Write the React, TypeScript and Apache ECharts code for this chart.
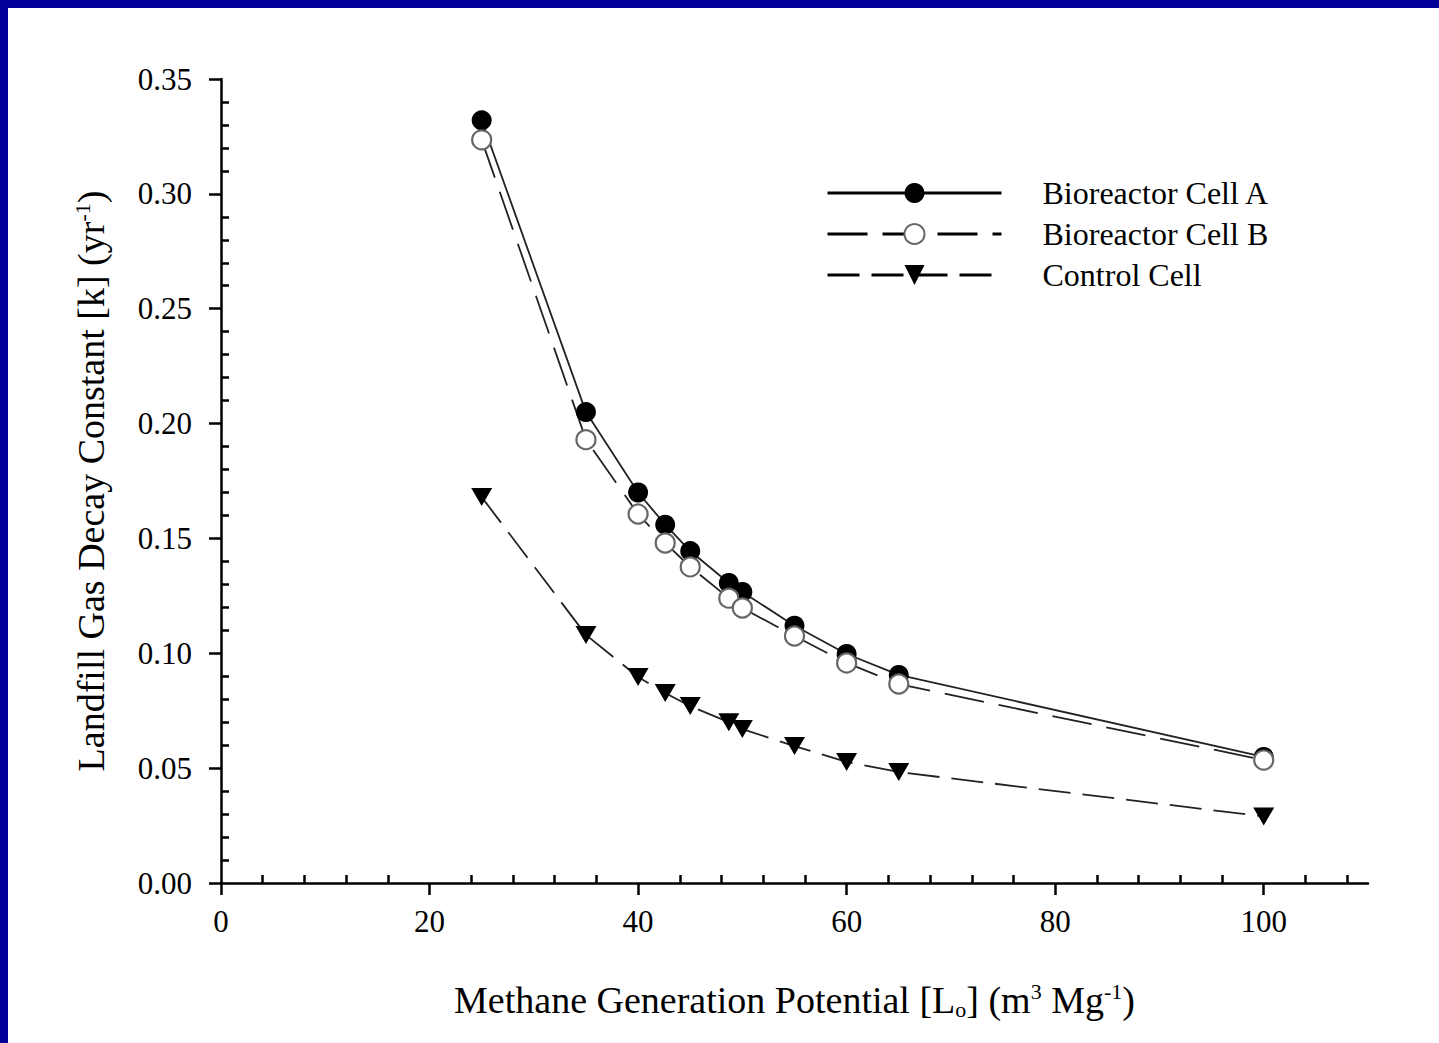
import React, { useEffect, useRef } from "react";
import * as echarts from "echarts";

const xValues = [25, 35, 40, 42.6, 45, 48.7, 50, 55, 60, 65, 100];
const cellA = [0.332, 0.205, 0.17, 0.156, 0.1445, 0.1306, 0.1267, 0.112, 0.0997, 0.0906, 0.0549];
const cellB = [0.3235, 0.193, 0.1606, 0.148, 0.1376, 0.124, 0.1197, 0.1075, 0.0958, 0.0866, 0.0535];
const control = [0.168, 0.108, 0.0897, 0.0827, 0.077, 0.07, 0.067, 0.0596, 0.0527, 0.0483, 0.029];
const xTickValues = [0, 20, 40, 60, 80, 100];
const seriesNames = ["Bioreactor Cell A", "Bioreactor Cell B", "Control Cell"];

const FONT = "Liberation Serif";

export default function App() {
  const ref = useRef<HTMLDivElement>(null);
  useEffect(() => {
    if (!ref.current) return;
    const chart = echarts.init(ref.current, null, { renderer: "svg" });
    const pairs = (ys: number[]) => xValues.map((x, i) => [x, ys[i]]);
    const lineCol = "#222";
    chart.setOption({
      animation: false,
      backgroundColor: "#ffffff",
      graphic: [
        { type: "rect", shape: { x: 0, y: 0, width: 1439, height: 8 }, style: { fill: "#000099" }, z: 100 },
        { type: "rect", shape: { x: 0, y: 0, width: 8, height: 1043 }, style: { fill: "#000099" }, z: 100 },
      ],
      grid: { left: 221, right: 71, top: 79, bottom: 160, containLabel: false },
      legend: {
        data: seriesNames,
        orient: "vertical",
        left: 821,
        top: 172,
        itemWidth: 174,
        itemHeight: 25,
        itemGap: 9,
        selectedMode: false,
        formatter: (name: string) => "{g| }" + name,
        lineStyle: { width: 3, color: "#000" },
        textStyle: {
          fontFamily: FONT,
          fontSize: 32,
          color: "#000",
          lineHeight: 25,
          rich: { g: { width: 36, fontSize: 32, fontFamily: FONT } },
        },
      },
      xAxis: {
        type: "value",
        min: 0,
        max: 110,
        interval: 20,
        name: "Methane Generation Potential [L{sub|o}] (m{sup|3} Mg{sup|-1})",
        nameLocation: "middle",
        nameGap: 97,
        nameTextStyle: {
          fontFamily: FONT,
          fontSize: 38,
          color: "#000",
          lineHeight: 40,
          rich: {
            sup: { fontFamily: FONT, fontSize: 22, verticalAlign: "top", lineHeight: 20 },
            sub: { fontFamily: FONT, fontSize: 22, verticalAlign: "bottom", lineHeight: 20 },
          },
        },
        splitLine: { show: false },
        axisLine: { show: true, onZero: false, lineStyle: { color: "#000", width: 2.5 } },
        axisTick: { show: true, length: 12, customValues: xTickValues, lineStyle: { color: "#000", width: 2.5 } },
        minorTick: { show: true, splitNumber: 5, length: -8, lineStyle: { color: "#000", width: 2.5 } },
        axisLabel: {
          customValues: xTickValues,
          margin: 23,
          fontFamily: FONT,
          fontSize: 31,
          color: "#000",
        },
      },
      yAxis: {
        type: "value",
        min: 0,
        max: 0.35,
        interval: 0.05,
        name: "Landfill Gas Decay Constant [k] (yr{sup|-1})",
        nameLocation: "middle",
        nameGap: 110,
        nameRotate: 90,
        nameTextStyle: {
          fontFamily: FONT,
          fontSize: 38,
          color: "#000",
          lineHeight: 40,
          rich: {
            sup: { fontFamily: FONT, fontSize: 22, verticalAlign: "top", lineHeight: 20 },
          },
        },
        splitLine: { show: false },
        axisLine: { show: true, onZero: false, lineStyle: { color: "#000", width: 2.5 } },
        axisTick: { show: true, length: 12, lineStyle: { color: "#000", width: 2.5 } },
        minorTick: { show: true, splitNumber: 5, length: -8, lineStyle: { color: "#000", width: 2.5 } },
        axisLabel: {
          margin: 29,
          fontFamily: FONT,
          fontSize: 31,
          color: "#000",
          formatter: (v: number) => v.toFixed(2),
        },
      },
      series: [
        {
          name: seriesNames[0],
          type: "line",
          data: pairs(cellA),
          symbol: "circle",
          symbolSize: 20,
          itemStyle: { color: "#000", borderWidth: 0 },
          lineStyle: { color: lineCol, width: 1.8, type: "solid" },
        },
        {
          name: seriesNames[1],
          type: "line",
          data: pairs(cellB),
          symbol: "circle",
          symbolSize: 19,
          itemStyle: { color: "#fff", borderColor: "#666", borderWidth: 2.2 },
          lineStyle: { color: lineCol, width: 1.8, type: [40, 15] },
        },
        {
          name: seriesNames[2],
          type: "line",
          data: pairs(control),
          symbol: "path://M0,0L20,0L10,18Z",
          symbolSize: [21, 18],
          itemStyle: { color: "#000", borderWidth: 0 },
          lineStyle: { color: lineCol, width: 1.8, type: [32, 12] },
        },
      ],
    });
    return () => chart.dispose();
  }, []);
  return (
    <div
      ref={ref}
      style={{ position: "fixed", left: 0, top: 0, width: 1439, height: 1043, background: "#fff" }}
    />
  );
}
